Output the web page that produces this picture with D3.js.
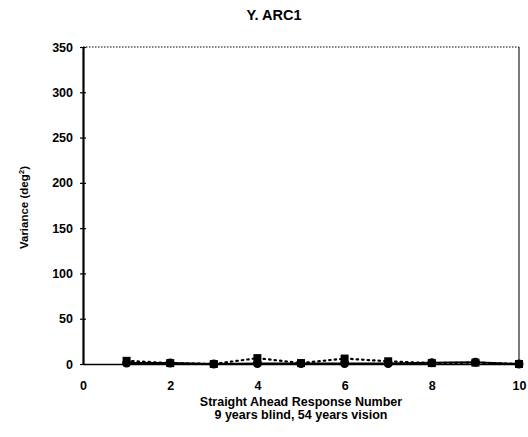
<!DOCTYPE html>
<html>
<head>
<meta charset="utf-8">
<script src="https://cdn.jsdelivr.net/npm/d3@7"></script>
<style>
  body { margin: 0; background: #fff; }
  svg text { font-family: "Liberation Sans", Arial, sans-serif; font-weight: bold; fill: #000; }
</style>
</head>
<body>
<svg id="chart" width="528" height="437"></svg>
<script>
// response numbers and the two variance series
const responses = [1, 2, 3, 4, 5, 6, 7, 8, 9, 10];
const squareSeries = [3.5, 1, 0, 6.5, 1, 6, 3, 1, 1.5, 0];   // dotted, square markers
const circleSeries = [1, 1, 0, 0.5, 0.5, 0.5, 0.5, 1.5, 2, 0]; // solid, round markers
const xTicks = [0, 2, 4, 6, 8, 10];
const yTicks = [0, 50, 100, 150, 200, 250, 300, 350];

const margin = { top: 47, right: 9, bottom: 73, left: 83 };
const width = 528 - margin.left - margin.right;
const height = 437 - margin.top - margin.bottom;

const svg = d3.select("#chart");
const g = svg.append("g").attr("transform", `translate(${margin.left},${margin.top})`);

const x = d3.scaleLinear().domain([0, 10]).range([0, width]);
const y = d3.scaleLinear().domain([0, 350]).range([height, 0]);

// frame: dotted top, thin right edge
g.append("line")
  .attr("x1", 0).attr("x2", width).attr("y1", 0).attr("y2", 0)
  .attr("stroke", "#000").attr("stroke-width", 1.2).attr("stroke-dasharray", "1.5,1.5");
g.append("line")
  .attr("x1", width).attr("x2", width).attr("y1", 0).attr("y2", height)
  .attr("stroke", "#222").attr("stroke-width", 1.2);

// y axis
const yAxis = g.append("g")
  .call(d3.axisLeft(y).tickValues(yTicks).tickSizeInner(3).tickSizeOuter(0).tickPadding(7));
yAxis.select(".domain").attr("stroke-width", 2.2);
yAxis.selectAll(".tick line").attr("x2", 3).attr("x1", -3).attr("stroke-width", 1.2);
yAxis.selectAll("text").style("font-size", "12.5px").attr("font-family", null);

// x axis
const xAxis = g.append("g")
  .attr("transform", `translate(0,${height})`)
  .call(d3.axisBottom(x).tickValues(xTicks).tickSize(0).tickPadding(17));
xAxis.select(".domain").attr("stroke-width", 1.5);
xAxis.selectAll("text").style("font-size", "12.5px").attr("font-family", null);

// series lines
const line = d3.line().x((d, i) => x(responses[i])).y(d => y(d));

g.append("path")
  .datum(squareSeries)
  .attr("fill", "none").attr("stroke", "#000").attr("stroke-width", 2.2)
  .attr("stroke-dasharray", "1.5,4").attr("stroke-linecap", "round")
  .attr("d", line);

g.append("path")
  .datum(circleSeries)
  .attr("fill", "none").attr("stroke", "#000").attr("stroke-width", 2)
  .attr("d", line);

// markers
g.selectAll(".sq")
  .data(squareSeries)
  .enter().append("rect")
  .attr("x", (d, i) => x(responses[i]) - 4)
  .attr("y", d => y(d) - 4)
  .attr("width", 8).attr("height", 8)
  .attr("fill", "#000");

g.selectAll(".dot")
  .data(circleSeries)
  .enter().append("circle")
  .attr("cx", (d, i) => x(responses[i]))
  .attr("cy", d => y(d))
  .attr("r", 4.5)
  .attr("fill", "#000");

// titles
svg.append("text")
  .attr("x", 274).attr("y", 20)
  .attr("text-anchor", "middle")
  .style("font-size", "14.5px")
  .text("Y. ARC1");

svg.append("text")
  .attr("x", margin.left + width / 2).attr("y", 406)
  .attr("text-anchor", "middle")
  .style("font-size", "12.5px")
  .text("Straight Ahead Response Number");
svg.append("text")
  .attr("x", margin.left + width / 2).attr("y", 419)
  .attr("text-anchor", "middle")
  .style("font-size", "12.5px")
  .text("9 years blind, 54 years vision");

const yTitle = svg.append("text")
  .attr("transform", `translate(28,${margin.top + height / 2 + 2}) rotate(-90)`)
  .attr("text-anchor", "middle")
  .style("font-size", "11.5px");
yTitle.append("tspan").text("Variance (deg");
yTitle.append("tspan").attr("baseline-shift", "super").style("font-size", "8px").text("2");
yTitle.append("tspan").text(")");
</script>
</body>
</html>
